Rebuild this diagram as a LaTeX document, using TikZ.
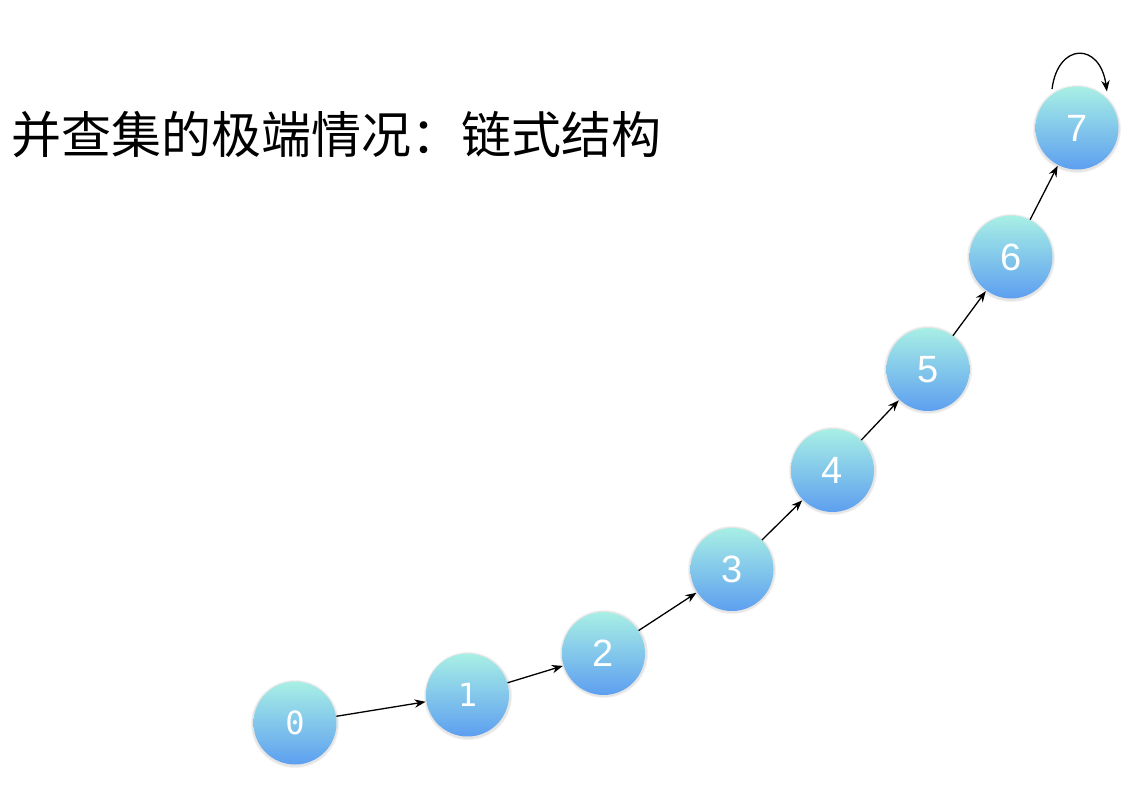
\documentclass[tikz,border=0pt]{standalone}
\usepackage{fontspec}
\newfontfamily\cjk{Noto Sans CJK SC}
\newfontfamily\monodigit{DejaVu Sans Mono}
\newfontfamily\sansdigit{Liberation Sans}
\usetikzlibrary{arrows.meta}
\definecolor{topc}{HTML}{A8EFE5}
\definecolor{botc}{HTML}{5D9FF0}
\tikzset{
  ball/.style={circle, minimum size=41.5pt, inner sep=0pt, top color=topc, bottom color=botc, draw=none, text=white},
  halo/.style={circle, minimum size=#1, inner sep=0pt, fill=black, fill opacity=0.05, draw=none},
  link/.style={-{Stealth[length=5.5pt,width=4.2pt]}, line width=0.65pt, black, shorten >=0.3pt},
  digA/.style={font=\monodigit\fontsize{16}{16}\selectfont},
  digB/.style={font=\sansdigit\fontsize{19}{19}\selectfont}
}
\begin{document}
\begin{tikzpicture}[x=0.5pt,y=-0.5pt]
\useasboundingbox (0,0) rectangle (1144,790);
\fill[white] (0,0) rectangle (1144,790);
\node[anchor=west, inner sep=0pt, font=\cjk\fontsize{25}{25}\selectfont] (title) at (11,135) {并查集的极端情况：链式结构};
% shadows
\foreach \p in {(295,724),(468,696),(604,654),(732,570),(833,471),(928,370),(1011,258),(1077,129)}{
  \node[halo=44pt] at \p {};
  \node[halo=43pt] at \p {};
}
\node[ball, digA] (n0) at (295,723) {0};
\node[ball, digA] (n1) at (467.5,695) {1};
\node[ball, digB] (n2) at (603.5,653.5) {2};
\node[ball, digB] (n3) at (732,569.5) {3};
\node[ball, digB] (n4) at (832.5,470.5) {4};
\node[ball, digB] (n5) at (928,369.5) {5};
\node[ball, digB] (n6) at (1011,257) {6};
\node[ball, digB] (n7) at (1077,128) {7};
\coordinate (loopstart) at (1052,89);
\coordinate (loopend) at (1107,92);
\draw[link] (n0) -- (n1);
\draw[link] (n1) -- (n2);
\draw[link] (n2) -- (n3);
\draw[link] (n3) -- (n4);
\draw[link] (n4) -- (n5);
\draw[link] (n5) -- (n6);
\draw[link] (n6) -- (n7);
\draw[link] (loopstart) .. controls (1058,42) and (1100,42) .. (loopend);
\end{tikzpicture}
\end{document}
